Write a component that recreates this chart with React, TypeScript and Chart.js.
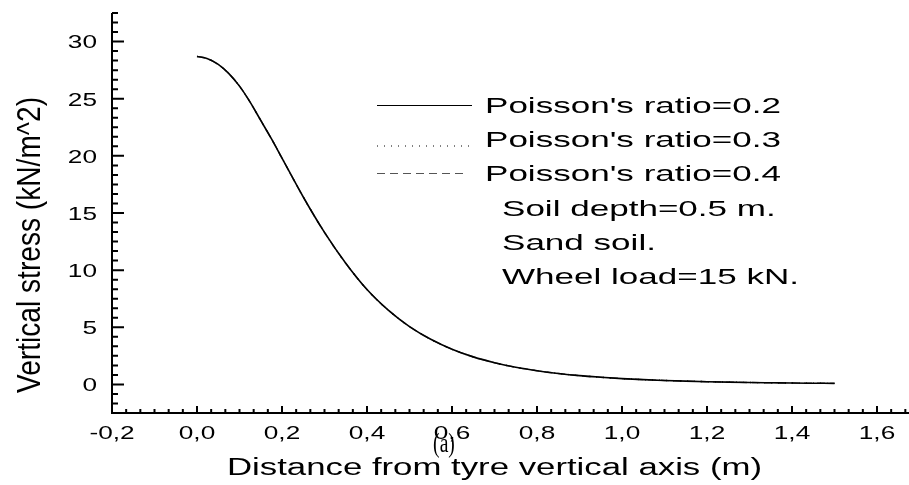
import React, { useEffect, useRef } from "react";
import { Chart, registerables } from "chart.js";

Chart.register(...registerables);

// ---- data ----
const distance = [
  0, 0.025, 0.05, 0.075, 0.1, 0.125, 0.15, 0.175, 0.2, 0.25, 0.3, 0.35, 0.4, 0.45, 0.5, 0.55,
  0.6, 0.65, 0.7, 0.75, 0.8, 0.85, 0.9, 0.95, 1.0, 1.05, 1.1, 1.15, 1.2, 1.25, 1.3, 1.35, 1.4,
  1.45, 1.5,
];
const stressNu02 = [
  28.7, 28.5, 28.0, 27.2, 26.1, 24.7, 23.1, 21.5, 19.8, 16.4, 13.3, 10.6, 8.3, 6.5, 5.06, 3.95,
  3.08, 2.41, 1.9, 1.5, 1.2, 0.96, 0.77, 0.63, 0.51, 0.42, 0.35, 0.29, 0.24, 0.2, 0.17, 0.145,
  0.12, 0.105, 0.09,
];
const stressNu03 = [
  28.7, 28.5, 28.0, 27.2, 26.1, 24.7, 23.1, 21.5, 19.8, 16.4, 13.3, 10.6, 8.3, 6.5, 5.06, 3.95,
  3.08, 2.41, 1.9, 1.5, 1.2, 0.96, 0.77, 0.63, 0.51, 0.42, 0.35, 0.29, 0.24, 0.2, 0.17, 0.145,
  0.12, 0.105, 0.09,
];
const stressNu04 = [
  28.7, 28.5, 28.0, 27.2, 26.1, 24.7, 23.1, 21.5, 19.8, 16.4, 13.3, 10.6, 8.3, 6.5, 5.06, 3.95,
  3.08, 2.41, 1.9, 1.5, 1.2, 0.96, 0.77, 0.63, 0.51, 0.42, 0.35, 0.29, 0.24, 0.2, 0.17, 0.145,
  0.12, 0.105, 0.09,
];
const seriesLabels = ["Poisson's ratio=0.2", "Poisson's ratio=0.3", "Poisson's ratio=0.4"];
const noteLines = ["Soil depth=0.5 m.", "Sand soil.", "Wheel load=15 kN."];
const xTickValues = [-0.2, 0, 0.2, 0.4, 0.6, 0.8, 1.0, 1.2, 1.4, 1.6];
const yTickValues = [0, 5, 10, 15, 20, 25, 30];
const xAxisTitle = "Distance from tyre vertical axis (m)";
const yAxisTitle = "Vertical stress (kN/m^2)";
const panelLabel = "(a)";

const SANS = '"Liberation Sans", Arial, sans-serif';
const SERIF = '"Liberation Serif", "Times New Roman", serif';

function drawText(
  ctx: CanvasRenderingContext2D,
  text: string,
  x: number,
  capCenterY: number,
  size: number,
  family: string,
  align: CanvasTextAlign,
  sx: number
) {
  ctx.save();
  ctx.font = `${size}px ${family}`;
  ctx.translate(x, capCenterY + 0.358 * size);
  ctx.scale(sx, 1);
  ctx.textAlign = align;
  ctx.textBaseline = "alphabetic";
  ctx.fillStyle = "#000";
  ctx.fillText(text, 0, 0);
  ctx.restore();
}

function fitScale(ctx: CanvasRenderingContext2D, text: string, size: number, family: string, target: number) {
  ctx.save();
  ctx.font = `${size}px ${family}`;
  const w = ctx.measureText(text).width;
  ctx.restore();
  return target / w;
}

const originStylePlugin = {
  id: "originStyle",
  afterDraw(chart: any) {
    const ctx: CanvasRenderingContext2D = chart.ctx;
    const xs = chart.scales.x;
    const ys = chart.scales.y;
    const left = xs.getPixelForValue(xs.min);
    const right = xs.getPixelForValue(xs.max);
    const top = ys.getPixelForValue(ys.max);
    const bottom = ys.getPixelForValue(ys.min);

    ctx.save();
    ctx.strokeStyle = "#000";
    ctx.lineWidth = 2;
    ctx.lineCap = "butt";
    // axis lines
    ctx.beginPath();
    ctx.moveTo(left, top);
    ctx.lineTo(left, bottom + 1);
    ctx.moveTo(left - 1, bottom);
    ctx.lineTo(right, bottom);
    ctx.stroke();

    // y ticks (inward), minor every 5/6
    ctx.beginPath();
    for (let k = -3; k <= 39; k++) {
      const v = (k * 5) / 6;
      if (v < ys.min - 1e-6 || v > ys.max + 1e-6) continue;
      const py = ys.getPixelForValue(v);
      const len = k % 6 === 0 ? 12 : 6;
      ctx.moveTo(left, py);
      ctx.lineTo(left + len, py);
    }
    // x ticks (inward), minor every 0.2/6
    for (let k = 0; k <= 57; k++) {
      const v = -0.2 + k / 30;
      if (v > xs.max + 1e-6) continue;
      const px = xs.getPixelForValue(v);
      const len = k % 6 === 0 ? 7 : 4;
      ctx.moveTo(px, bottom);
      ctx.lineTo(px, bottom - len);
    }
    ctx.stroke();

    // tick labels
    const tickSize = 19;
    const tickSx = 1.38;
    yTickValues.forEach((v) => {
      drawText(ctx, String(v), 97, ys.getPixelForValue(v), tickSize, SANS, "right", tickSx);
    });
    xTickValues.forEach((v) => {
      drawText(ctx, v.toFixed(1).replace(".", ","), xs.getPixelForValue(v), 432, tickSize, SANS, "center", tickSx);
    });

    // x title
    const xtSize = 23;
    drawText(ctx, xAxisTitle, 494.5, 467, xtSize, SANS, "center", fitScale(ctx, xAxisTitle, xtSize, SANS, 535));

    // y title (rotated)
    const ytSize = 28;
    ctx.save();
    ctx.translate(28, 245);
    ctx.rotate(-Math.PI / 2);
    ctx.font = `${ytSize}px ${SANS}`;
    const ytw = ctx.measureText(yAxisTitle).width;
    ctx.scale(296 / ytw, 1.2);
    ctx.textAlign = "center";
    ctx.textBaseline = "alphabetic";
    ctx.fillStyle = "#000";
    ctx.fillText(yAxisTitle, 0, 0.358 * ytSize);
    ctx.restore();

    // panel label
    drawText(ctx, panelLabel, 444, 442, 28, SERIF, "center", 0.7);

    // legend
    const legSize = 22;
    const legSx = fitScale(ctx, seriesLabels[0], legSize, SANS, 296);
    const rowY = [105.5, 139.5, 173.5];
    const sampleY = [105.5, 146, 173.5];
    const sampleEnd = [472, 472, 468];
    chart.data.datasets.forEach((ds: any, i: number) => {
      ctx.save();
      ctx.strokeStyle = ds.borderColor;
      ctx.lineWidth = 1;
      ctx.setLineDash(ds.borderDash || []);
      ctx.beginPath();
      ctx.moveTo(377, sampleY[i]);
      ctx.lineTo(sampleEnd[i], sampleY[i]);
      ctx.stroke();
      ctx.restore();
      drawText(ctx, ds.label, 485, rowY[i], legSize, SANS, "left", legSx);
    });
    const noteY = [208.5, 242.5, 276.5];
    noteLines.forEach((t, i) => drawText(ctx, t, 502, noteY[i], legSize, SANS, "left", legSx));

    ctx.restore();
  },
};

export default function App() {
  const canvasRef = useRef<HTMLCanvasElement | null>(null);

  useEffect(() => {
    const canvas = canvasRef.current;
    if (!canvas) return;
    const toPoints = (arr: number[]) => distance.map((x, i) => ({ x, y: arr[i] }));
    const chart = new Chart(canvas, {
      type: "line",
      data: {
        datasets: [
          {
            label: seriesLabels[0],
            data: toPoints(stressNu02),
            borderColor: "#000000",
            borderWidth: 1.6,
            borderDash: [],
            pointRadius: 0,
            fill: false,
            cubicInterpolationMode: "monotone",
          },
          {
            label: seriesLabels[1],
            data: toPoints(stressNu03),
            borderColor: "#000000",
            borderWidth: 1.4,
            borderDash: [1, 6],
            pointRadius: 0,
            fill: false,
            cubicInterpolationMode: "monotone",
          },
          {
            label: seriesLabels[2],
            data: toPoints(stressNu04),
            borderColor: "#555555",
            borderWidth: 1.4,
            borderDash: [8, 5],
            pointRadius: 0,
            fill: false,
            cubicInterpolationMode: "monotone",
          },
        ],
      },
      options: {
        responsive: false,
        animation: false,
        devicePixelRatio: 1,
        layout: { padding: { left: 112, top: 13, right: 10.5, bottom: 72 } },
        scales: {
          x: { type: "linear", min: -0.2, max: 1.7, display: false },
          y: { type: "linear", min: -2.5, max: 32.5, display: false },
        },
        plugins: {
          legend: { display: false },
          tooltip: { enabled: false },
        },
        events: [],
      },
      plugins: [originStylePlugin],
    } as any);
    return () => chart.destroy();
  }, []);

  return (
    <div
      style={{
        position: "fixed",
        left: 0,
        top: 0,
        width: 909,
        height: 485,
        overflow: "hidden",
        background: "#fff",
      }}
    >
      <canvas ref={canvasRef} width={930} height={485} style={{ width: 930, height: 485, display: "block" }} />
    </div>
  );
}
